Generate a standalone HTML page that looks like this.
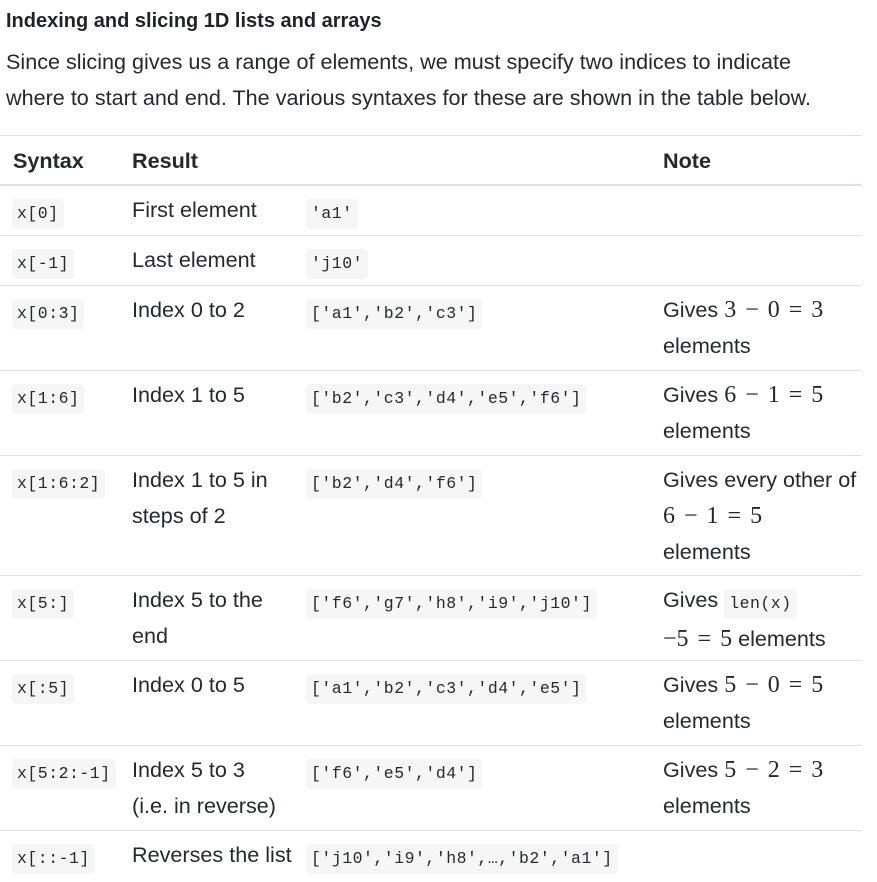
<!DOCTYPE html>
<html><head><meta charset="utf-8"><style>
body{margin:0;width:877px;height:882px;background:#fff;color:#1f2328;font-family:"Liberation Sans",sans-serif;position:relative;overflow:hidden}
h3{position:absolute;left:6px;top:7px;margin:0;font-size:20px;font-weight:bold;line-height:28px;color:#1f2328}
p{position:absolute;left:6px;top:44px;margin:0;font-size:21.6px;line-height:36px;color:#24292f}
.line{position:absolute;left:6px;width:862px;height:1px;background:#dfe2e5}
.cell{position:absolute;font-size:21.6px;line-height:36px;color:#24292f;white-space:nowrap}
code{font-family:"Liberation Mono",monospace;font-size:16.5px;letter-spacing:0.5px;background:#f6f6f6;border-radius:4px;padding:5px 5px 6px 5px;position:relative;top:1px}
.m{font-family:"Liberation Serif",serif;font-size:24px;word-spacing:3px}
</style></head><body>
<h3>Indexing and slicing 1D lists and arrays</h3>
<p>Since slicing gives us a range of elements, we must specify two indices to indicate<br>where to start and end. The various syntaxes for these are shown in the table below.</p>
<div id="t"></div>
<script>
const rows=[
 ["x[0]","First element","'a1'",""],
 ["x[-1]","Last element","'j10'",""],
 ["x[0:3]","Index 0 to 2","['a1','b2','c3']","Gives <span class='m'>3 − 0 = 3</span><br>elements"],
 ["x[1:6]","Index 1 to 5","['b2','c3','d4','e5','f6']","Gives <span class='m'>6 − 1 = 5</span><br>elements"],
 ["x[1:6:2]","Index 1 to 5 in<br>steps of 2","['b2','d4','f6']","Gives every other of<br><span class='m'>6 − 1 = 5</span><br>elements"],
 ["x[5:]","Index 5 to the<br>end","['f6','g7','h8','i9','j10']","Gives <code>len(x)</code><br><span class='m'>−5 = 5</span> elements"],
 ["x[:5]","Index 0 to 5","['a1','b2','c3','d4','e5']","Gives <span class='m'>5 − 0 = 5</span><br>elements"],
 ["x[5:2:-1]","Index 5 to 3<br>(i.e. in reverse)","['f6','e5','d4']","Gives <span class='m'>5 − 2 = 3</span><br>elements"],
 ["x[::-1]","Reverses the list","['j10','i9','h8',…,'b2','a1']",""]
];
const tops=[185,235,285,370,455,575,660,745,830];
const t=document.getElementById('t');
function add(html,cls,x,y,name){const d=document.createElement('div');d.className=cls;d.style.left=x+'px';d.style.top=y+'px';d.innerHTML=html;


t.appendChild(d);return d;}
add('','line',0,135,'table-top-border');
const hb=add('','line',0,184,'header-bottom-border');hb.style.height='2px';
add('<b>Syntax</b>','cell',13,143,'header-syntax');
add('<b>Result</b>','cell',132,143,'header-result');
add('<b>Note</b>','cell',663,143,'header-note');
rows.forEach((r,i)=>{const y=tops[i]+7;
 add('<code>'+r[0]+'</code>','cell',12,y,'syntax-cell');
 add(r[1],'cell',132,y,'result-description');
 add('<code>'+r[2]+'</code>','cell',306,y,'result-value');
 if(r[3])add(r[3],'cell',663,y,'note-cell');
 if(i>0)add('','line',0,tops[i],'row-border');
});
</script>
</body></html>
